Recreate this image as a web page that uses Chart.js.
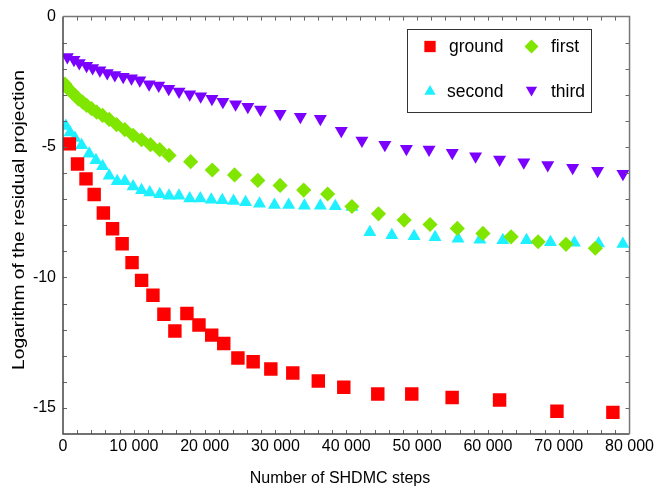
<!DOCTYPE html>
<html><head><meta charset="utf-8">
<script src="https://cdn.jsdelivr.net/npm/chart.js@4/dist/chart.umd.min.js"></script>
<style>html,body{margin:0;padding:0;background:#fff;}</style>
</head><body>
<canvas id="c" width="657" height="489"></canvas>
<script>
// ---- data ----
const groundX = [900, 2050, 3250, 4400, 5700, 7000, 8350, 9750, 11100, 12700, 14250, 15800, 17500, 19200, 21000, 22700, 24700, 26850, 29350, 32450, 36050, 39650, 44450, 49250, 54950, 61650, 69750, 77650];
const groundY = [-4.88, -5.65, -6.22, -6.82, -7.53, -8.13, -8.71, -9.43, -10.11, -10.68, -11.41, -12.05, -11.38, -11.82, -12.21, -12.53, -13.09, -13.23, -13.51, -13.66, -13.97, -14.21, -14.47, -14.47, -14.60, -14.70, -15.13, -15.17];

const firstX = [280, 750, 1220, 1690, 2150, 2780, 3340, 4040, 4750, 5590, 6520, 7560, 8730, 9900, 11090, 12350, 13660, 14970, 18030, 21080, 24230, 27510, 30660, 33990, 37370, 40800, 44550, 48170, 51830, 55680, 59300, 63280, 67090, 71030, 75170];
const firstY = [-2.59, -2.77, -2.89, -3.02, -3.15, -3.28, -3.40, -3.53, -3.66, -3.79, -3.94, -4.14, -4.33, -4.55, -4.72, -4.91, -5.10, -5.32, -5.56, -5.88, -6.07, -6.28, -6.47, -6.65, -6.80, -7.28, -7.56, -7.80, -7.97, -8.12, -8.31, -8.44, -8.63, -8.73, -8.88];

const secondX = [420, 990, 1690, 2630, 3700, 4650, 5590, 6520, 7650, 8730, 9900, 11090, 12250, 13660, 14970, 16380, 17890, 19390, 20940, 22490, 24090, 25780, 27750, 29860, 31870, 34090, 36340, 38450, 40800, 43330, 46430, 49580, 52540, 55780, 58870, 62110, 65450, 68830, 72210, 75630, 79060];
const secondY = [-4.19, -4.44, -4.65, -4.93, -5.26, -5.51, -5.74, -6.10, -6.31, -6.31, -6.51, -6.66, -6.74, -6.81, -6.87, -6.87, -6.97, -6.97, -7.02, -7.04, -7.07, -7.12, -7.17, -7.22, -7.22, -7.25, -7.25, -7.27, -7.30, -8.27, -8.38, -8.42, -8.46, -8.52, -8.55, -8.57, -8.57, -8.65, -8.67, -8.70, -8.72];

const thirdX = [610, 1550, 2300, 3330, 4180, 5210, 6250, 7320, 8500, 9670, 10850, 12160, 13520, 14930, 16390, 17890, 19440, 21030, 22580, 24370, 26100, 27890, 30660, 33520, 36340, 39300, 42210, 45450, 48490, 51690, 54970, 58260, 61650, 65070, 68450, 71970, 75490, 79070];
const thirdY = [-1.55, -1.65, -1.78, -1.88, -1.97, -2.06, -2.16, -2.24, -2.31, -2.36, -2.44, -2.59, -2.64, -2.77, -2.87, -2.98, -3.05, -3.15, -3.26, -3.36, -3.46, -3.56, -3.72, -3.84, -3.92, -4.38, -4.75, -4.91, -5.07, -5.09, -5.22, -5.35, -5.48, -5.58, -5.69, -5.79, -5.91, -6.02];

const seriesNames = ['ground', 'first', 'second', 'third'];
const xTickValues = [0, 10000, 20000, 30000, 40000, 50000, 60000, 70000, 80000];
const yTickValues = [0, -5, -10, -15];
const xTitle = 'Number of SHDMC steps';
const yTitle = 'Logarithm of the residual projection';

// ---- styles ----
const FONT = "'Liberation Sans', Arial, sans-serif";
const colors = ['#ff0000', '#80e600', '#1ef0ff', '#7a00ff'];
const styles = [
  {pointStyle: 'rect', radius: 9.5, rotation: 0},
  {pointStyle: 'rectRot', radius: 7.6, rotation: 0},
  {pointStyle: 'triangle', radius: 7.5, rotation: 0},
  {pointStyle: 'triangle', radius: 7.5, rotation: 180}
];
const legendRadius = [8, 7, 6.5, 6.5];
const xs = [groundX, firstX, secondX, thirdX];
const ys = [groundY, firstY, secondY, thirdY];

const datasets = seriesNames.map((n, i) => ({
  label: n,
  data: xs[i].map((x, k) => ({x: x, y: ys[i][k]})),
  pointStyle: styles[i].pointStyle,
  pointRadius: styles[i].radius,
  pointRotation: styles[i].rotation,
  backgroundColor: colors[i],
  borderColor: colors[i],
  borderWidth: 0,
  showLine: false
}));

const framePlugin = {
  id: 'frame',
  afterDraw(chart) {
    const ctx = chart.ctx;
    const a = chart.chartArea;
    const sx = chart.scales.x, sy = chart.scales.y;
    ctx.save();
    // minor ticks (inward)
    ctx.strokeStyle = '#666';
    ctx.lineWidth = 1;
    ctx.beginPath();
    for (let v = 2000; v < 80000; v += 2000) {
      const px = Math.round(sx.getPixelForValue(v)) + 0.5;
      ctx.moveTo(px, a.bottom); ctx.lineTo(px, a.bottom - 4);
      ctx.moveTo(px, a.top); ctx.lineTo(px, a.top + 4);
    }
    for (let v = -15; v < 0; v += 1) {
      const py = Math.round(sy.getPixelForValue(v)) + 0.5;
      ctx.moveTo(a.left, py); ctx.lineTo(a.left + 4, py);
      ctx.moveTo(a.right, py); ctx.lineTo(a.right - 4, py);
    }
    ctx.stroke();
    // frame
    ctx.strokeStyle = '#444';
    ctx.lineWidth = 1.5;
    ctx.beginPath();
    ctx.moveTo(a.left, a.top); ctx.lineTo(a.left, a.bottom); ctx.lineTo(a.right, a.bottom);
    ctx.stroke();
    ctx.strokeStyle = '#777';
    ctx.beginPath();
    ctx.moveTo(a.left, a.top); ctx.lineTo(a.right, a.top); ctx.lineTo(a.right, a.bottom);
    ctx.stroke();

    // axis titles
    ctx.fillStyle = '#000';
    ctx.font = '16px ' + FONT;
    ctx.textAlign = 'center';
    ctx.textBaseline = 'middle';
    ctx.fillText(xTitle, 340, 479);
    ctx.save();
    ctx.translate(20, 220);
    ctx.rotate(-Math.PI / 2);
    ctx.scale(1.2, 1);
    ctx.fillText(yTitle, 0, 0);
    ctx.restore();

    // legend
    const lx = 407, ly = 29, lw = 184, lh = 83;
    ctx.fillStyle = '#fff';
    ctx.fillRect(lx, ly, lw, lh);
    ctx.strokeStyle = '#333';
    ctx.lineWidth = 1;
    ctx.strokeRect(lx + 0.5, ly + 0.5, lw, lh);
    const items = [
      {i: 0, mx: 430, my: 46.5, tx: 449},
      {i: 1, mx: 531.5, my: 46.5, tx: 551},
      {i: 2, mx: 430, my: 91.5, tx: 447},
      {i: 3, mx: 531.5, my: 90, tx: 551}
    ];
    ctx.font = '17.5px ' + FONT;
    ctx.textAlign = 'left';
    ctx.textBaseline = 'middle';
    items.forEach(it => {
      const st = styles[it.i];
      ctx.fillStyle = colors[it.i];
      ctx.strokeStyle = colors[it.i];
      Chart.helpers.drawPoint(ctx, {pointStyle: st.pointStyle, radius: legendRadius[it.i], rotation: st.rotation, borderWidth: 0}, it.mx, it.my);
      ctx.fillStyle = '#000';
      ctx.fillText(seriesNames[it.i], it.tx, (it.i >= 2 ? 91 : 46.5) + 1);
    });
    ctx.restore();
  }
};

new Chart(document.getElementById('c'), {
  type: 'scatter',
  data: {datasets: datasets},
  options: {
    responsive: false,
    animation: false,
    layout: {padding: {left: 0, right: 26, top: 14, bottom: 0}},
    plugins: {legend: {display: false}, tooltip: {enabled: false}},
    scales: {
      x: {
        type: 'linear', min: 0, max: 80000,
        afterFit(s) { s.height = 55; },
        afterBuildTicks(s) { s.ticks = xTickValues.map(v => ({value: v})); },
        ticks: {
          callback: v => v === 0 ? '0' : (v / 1000) + ' 000',
          font: {family: FONT, size: 16}, color: '#000', padding: 3,
          maxRotation: 0, autoSkip: false
        },
        grid: {display: false, drawTicks: false},
        border: {display: false}
      },
      y: {
        type: 'linear', min: -16, max: 0,
        afterFit(s) { s.width = 63; },
        afterBuildTicks(s) { s.ticks = yTickValues.map(v => ({value: v})); },
        ticks: {
          callback: v => String(v),
          font: {family: FONT, size: 16}, color: '#000', padding: 7,
          autoSkip: false
        },
        grid: {display: false, drawTicks: false},
        border: {display: false}
      }
    }
  },
  plugins: [framePlugin]
});
</script>
</body></html>
